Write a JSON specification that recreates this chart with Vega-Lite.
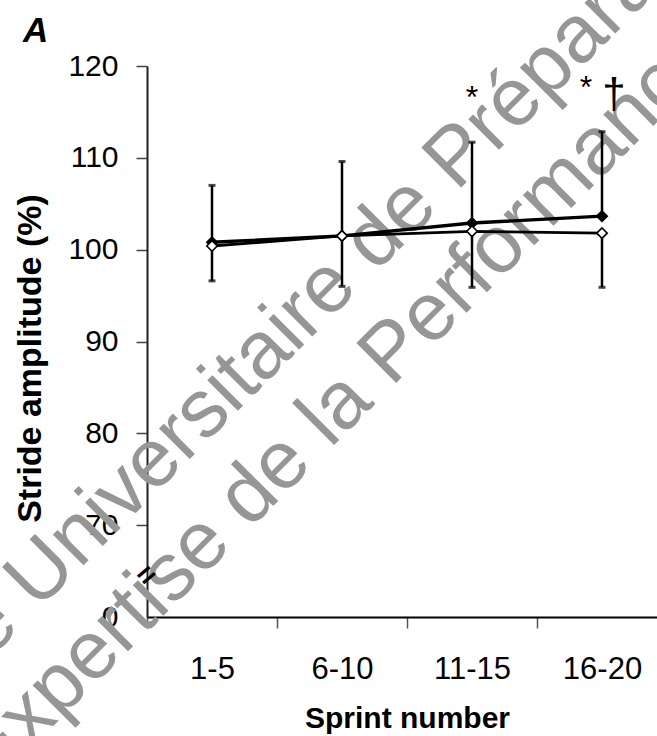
{
  "$schema": "https://vega.github.io/schema/vega-lite/v6.json",
  "width": 510,
  "height": 551,
  "autosize": "none",
  "padding": {"left": 147, "top": 66, "right": 0, "bottom": 119},
  "background": "white",
  "config": {
    "view": {"stroke": null},
    "font": "Liberation Sans",
    "text": {"font": "Liberation Sans"}
  },
  "data": {
    "values": [
      {"sprint": "1-5", "series": "solid", "mean": 100.8, "end": 107.0},
      {"sprint": "6-10", "series": "solid", "mean": 101.5, "end": 109.6},
      {"sprint": "11-15", "series": "solid", "mean": 102.9, "end": 111.7},
      {"sprint": "16-20", "series": "solid", "mean": 103.65, "end": 112.85},
      {"sprint": "1-5", "series": "hollow", "mean": 100.4, "end": 96.6},
      {"sprint": "6-10", "series": "hollow", "mean": 101.5, "end": 96.0},
      {"sprint": "11-15", "series": "hollow", "mean": 102.0, "end": 95.9},
      {"sprint": "16-20", "series": "hollow", "mean": 101.8, "end": 95.9}
    ]
  },
  "encoding": {
    "x": {
      "field": "sprint",
      "type": "nominal",
      "sort": ["1-5", "6-10", "11-15", "16-20"],
      "scale": {"domain": ["1-5", "6-10", "11-15", "16-20"], "range": [0, 520], "paddingInner": 0, "paddingOuter": 0},
      "axis": {
        "title": "Sprint number",
        "titleFont": "Liberation Sans",
        "titleFontSize": 30,
        "titleFontWeight": "bold",
        "titleColor": "black",
        "titlePadding": 19,
        "labelFont": "Liberation Sans",
        "labelFontSize": 31,
        "labelColor": "black",
        "labelAngle": 0,
        "labelPadding": 26,
        "tickBand": "extent",
        "tickSize": 11,
        "tickWidth": 1.5,
        "tickColor": "#555555",
        "domainColor": "black",
        "domainWidth": 2,
        "grid": false
      }
    },
    "y": {
      "type": "quantitative",
      "scale": {"domain": [60, 120], "nice": false, "zero": false},
      "axis": {
        "title": "Stride amplitude (%)",
        "titleFont": "Liberation Sans",
        "titleFontSize": 34,
        "titleFontWeight": "bold",
        "titleColor": "black",
        "titlePadding": 20,
        "titleY": 292,
        "values": [60, 70, 80, 90, 100, 110, 120],
        "labelExpr": "datum.value == 60 ? '0' : datum.label",
        "labelFont": "Liberation Sans",
        "labelFontSize": 30,
        "labelColor": "black",
        "labelPadding": 18,
        "tickSize": 11,
        "tickWidth": 1.5,
        "tickColor": "#444444",
        "tickOpacity": {"condition": {"test": "datum.value == 60", "value": 0}, "value": 1},
        "domainColor": "#222222",
        "domainWidth": 2,
        "grid": false
      }
    }
  },
  "layer": [
    {
      "data": {"values": [{"sprint": "6-10", "v": 99.05, "text": "e Universitaire de Préparation"}]},
      "mark": {"type": "text", "angle": 315, "fontSize": 82, "font": "Liberation Sans", "color": "#969696", "align": "center", "baseline": "middle"},
      "encoding": {
        "x": {"field": "sprint", "type": "nominal", "bandPosition": 0.6},
        "y": {"field": "v", "type": "quantitative"},
        "text": {"field": "text"}
      }
    },
    {
      "data": {"values": [{"sprint": "6-10", "v": 83.2, "text": "Expertise de la Performance"}]},
      "mark": {"type": "text", "angle": 315, "fontSize": 82, "font": "Liberation Sans", "color": "#969696", "align": "center", "baseline": "middle"},
      "encoding": {
        "x": {"field": "sprint", "type": "nominal", "bandPosition": 0.485},
        "y": {"field": "v", "type": "quantitative"},
        "text": {"field": "text"}
      }
    },
    {
      "mark": {"type": "rule", "color": "black", "strokeWidth": 2.5},
      "encoding": {
        "y": {"field": "mean", "type": "quantitative"},
        "y2": {"field": "end"}
      }
    },
    {
      "mark": {"type": "tick", "color": "black", "size": 7, "thickness": 3},
      "encoding": {
        "y": {"field": "end", "type": "quantitative"}
      }
    },
    {
      "mark": {"type": "line", "color": "black"},
      "encoding": {
        "y": {"field": "mean", "type": "quantitative"},
        "detail": {"field": "series"},
        "strokeWidth": {"field": "series", "type": "nominal", "scale": {"domain": ["solid", "hollow"], "range": [3.4, 2.8]}, "legend": null}
      }
    },
    {
      "mark": {"type": "point", "shape": "diamond", "filled": true, "size": 110, "stroke": "black", "strokeWidth": 1.6, "opacity": 1},
      "encoding": {
        "y": {"field": "mean", "type": "quantitative"},
        "fill": {"field": "series", "type": "nominal", "scale": {"domain": ["solid", "hollow"], "range": ["black", "white"]}, "legend": null}
      }
    },
    {
      "data": {"values": [{"sprint": "1-5", "v": 64.5, "text": "="}]},
      "mark": {"type": "text", "angle": 320, "fontSize": 30, "fontWeight": "bold", "color": "black", "align": "center", "baseline": "middle"},
      "encoding": {
        "x": {"field": "sprint", "type": "nominal", "bandPosition": 0},
        "y": {"field": "v", "type": "quantitative"},
        "text": {"field": "text"}
      }
    },
    {
      "data": {"values": [{"sprint": "11-15", "v": 115.4, "text": "*"}]},
      "mark": {"type": "text", "fontSize": 32, "color": "black", "align": "center", "baseline": "alphabetic"},
      "encoding": {
        "y": {"field": "v", "type": "quantitative"},
        "text": {"field": "text"}
      }
    },
    {
      "data": {"values": [{"sprint": "16-20", "v": 116.5, "text": "*"}]},
      "mark": {"type": "text", "fontSize": 32, "color": "black", "align": "center", "baseline": "alphabetic", "dx": -16},
      "encoding": {
        "y": {"field": "v", "type": "quantitative"},
        "text": {"field": "text"}
      }
    },
    {
      "data": {"values": [{"sprint": "16-20", "v": 115.4, "text": "†"}]},
      "mark": {"type": "text", "fontSize": 42, "color": "black", "align": "center", "baseline": "alphabetic", "dx": 12},
      "encoding": {
        "y": {"field": "v", "type": "quantitative"},
        "text": {"field": "text"}
      }
    },
    {
      "data": {"values": [{"sprint": "1-5", "v": 120, "text": "A"}]},
      "mark": {"type": "text", "fontSize": 35, "fontWeight": "bold", "fontStyle": "italic", "color": "black", "align": "left", "baseline": "alphabetic", "dx": -124, "dy": -24},
      "encoding": {
        "x": {"field": "sprint", "type": "nominal", "bandPosition": 0},
        "y": {"field": "v", "type": "quantitative"},
        "text": {"field": "text"}
      }
    }
  ]
}
